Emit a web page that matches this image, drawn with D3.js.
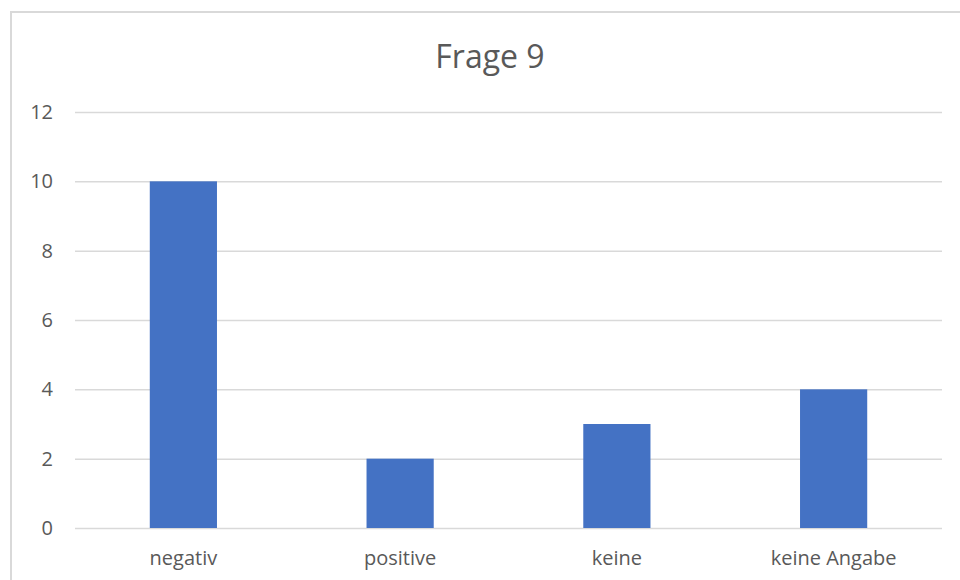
<!DOCTYPE html>
<html>
<head>
<meta charset="utf-8">
<script src="https://cdn.jsdelivr.net/npm/d3@7"></script>
<style>
  html, body { margin: 0; padding: 0; background: #fff; }
  svg { display: block; font-family: "Open Sans", Lato, sans-serif; }
</style>
</head>
<body>
<svg id="chart" width="960" height="580"></svg>
<script>
const categories = ["negativ", "positive", "keine", "keine Angabe"];
const values = [10, 2, 3, 4];
const yTicks = [0, 2, 4, 6, 8, 10, 12];
const title = "Frage 9";

const FONT = '"Open Sans", Lato, sans-serif';
const svg = d3.select("#chart");
const W = 960, H = 580;
const margin = { left: 75, right: 18, top: 112, bottom: 52 };

// Chart area frame (extends past the right and bottom edges)
svg.append("rect")
  .attr("x", 11).attr("y", 12)
  .attr("width", 970).attr("height", 600)
  .attr("fill", "#fff")
  .attr("stroke", "#d9d9d9")
  .attr("stroke-width", 2);

const x = d3.scaleBand()
  .domain(categories)
  .range([margin.left, W - margin.right])
  .paddingInner(0.69)
  .paddingOuter(0.345);

const y = d3.scaleLinear()
  .domain([0, 12])
  .range([H - margin.bottom, margin.top]);

// Horizontal gridlines with value labels
const yAxis = d3.axisLeft(y)
  .tickValues(yTicks)
  .tickSize(-(W - margin.left - margin.right))
  .tickFormat(d3.format("d"));

const gy = svg.append("g")
  .attr("transform", `translate(${margin.left},0)`)
  .call(yAxis)
  .attr("font-family", FONT);
gy.select(".domain").remove();
gy.selectAll(".tick line")
  .attr("stroke", "#d9d9d9")
  .attr("stroke-width", 1.5);
gy.selectAll(".tick text")
  .attr("fill", "#595959")
  .attr("font-size", 20)
  .attr("x", -22);

// Bars
svg.append("g")
  .selectAll("rect")
  .data(values)
  .join("rect")
  .attr("x", (d, i) => x(categories[i]))
  .attr("y", d => y(d))
  .attr("width", x.bandwidth())
  .attr("height", d => y(0) - y(d))
  .attr("fill", "#4472c4");

// Category labels
const xAxis = d3.axisBottom(x).tickSize(0).tickPadding(23);
const gx = svg.append("g")
  .attr("transform", `translate(0,${y(0)})`)
  .call(xAxis)
  .attr("font-family", FONT);
gx.select(".domain").remove();
gx.selectAll(".tick text")
  .attr("fill", "#595959")
  .attr("font-size", 20);

// Title
svg.append("text")
  .attr("x", 490)
  .attr("y", 68)
  .attr("text-anchor", "middle")
  .attr("fill", "#595959")
  .attr("font-family", FONT)
  .attr("font-size", 32)
  .text(title);
</script>
</body>
</html>
